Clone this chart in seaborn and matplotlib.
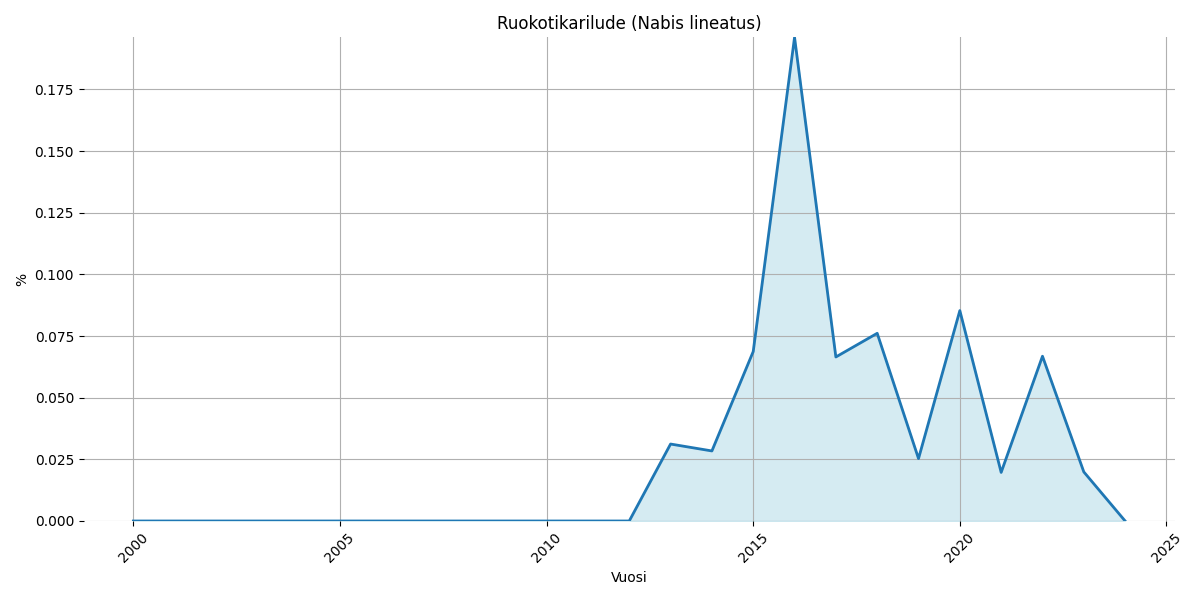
import matplotlib
matplotlib.use("Agg")
import matplotlib.pyplot as plt
import pandas as pd
import seaborn as sns

# Data
years = list(range(2000, 2025))
values = [0.0] * 13 + [0.0312, 0.0284, 0.0687, 0.1961, 0.0665, 0.0761,
                       0.0253, 0.0853, 0.0197, 0.0668, 0.0199, 0.0]

df = pd.DataFrame({"Vuosi": years, "%": values})

fig, ax = plt.subplots(figsize=(12, 6), dpi=100)

sns.lineplot(data=df, x="Vuosi", y="%", ax=ax, color="#1f77b4", linewidth=2)
ax.fill_between(df["Vuosi"], df["%"], color="lightblue", alpha=0.5)

ax.set_title("Ruokotikarilude (Nabis lineatus)", fontsize=12)
ax.set_xlabel("Vuosi")
ax.set_ylabel("%")
ax.set_ylim(0, max(values))
ax.grid(True)
plt.xticks(rotation=45)
sns.despine(left=True, bottom=True)

plt.tight_layout()
fig.savefig("out.png")
